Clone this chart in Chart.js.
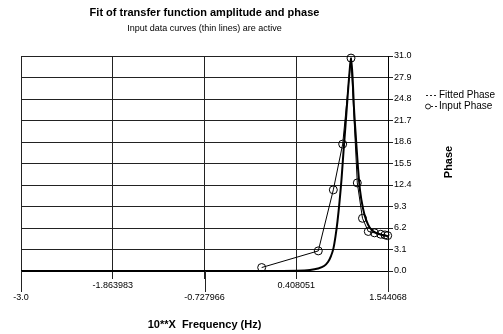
<!DOCTYPE html>
<html><head><meta charset="utf-8">
<script src="https://cdn.jsdelivr.net/npm/chart.js@4/dist/chart.umd.min.js"></script>
<style>html,body{margin:0;padding:0;background:#fff;}canvas{display:block;}</style>
</head><body>
<canvas id="c" width="503" height="334"></canvas>
<script>
const xTicks = [-3.0, -1.863983, -0.727966, 0.408051, 1.544068];
const xTickLabels = ['-3.0', '-1.863983', '-0.727966', '0.408051', '1.544068'];
const yTicks = [0.0, 3.1, 6.2, 9.3, 12.4, 15.5, 18.6, 21.7, 24.8, 27.9, 31.0];
const yTickLabels = ['0.0', '3.1', '6.2', '9.3', '12.4', '15.5', '18.6', '21.7', '24.8', '27.9', '31.0'];

const inputX = [-0.020, 0.681, 0.867, 0.983, 1.086, 1.164, 1.228, 1.300, 1.377, 1.454, 1.507, 1.540];
const inputY = [0.5, 2.9, 11.7, 18.3, 30.7, 12.7, 7.6, 5.7, 5.5, 5.3, 5.2, 5.1];

const fitX = [-3.0, -1.4, -0.165, 0.417, 0.578, 0.677, 0.752, 0.801, 0.838, 0.869, 0.894, 0.919, 0.944, 0.969, 0.993, 1.018, 1.043, 1.068, 1.086, 1.105, 1.123, 1.148, 1.173, 1.198, 1.235, 1.272, 1.321, 1.396, 1.470, 1.544];
const fitY = [0.0, 0.0, 0.0, 0.04, 0.14, 0.36, 0.72, 1.3, 2.15, 3.3, 5.0, 7.2, 10.0, 13.3, 17.2, 21.0, 25.0, 28.7, 30.7, 28.0, 23.5, 19.0, 14.8, 11.6, 9.0, 7.4, 6.2, 5.5, 5.2, 5.0];

const titleText = 'Fit of transfer function amplitude and phase';
const subtitleText = 'Input data curves (thin lines) are active';
const xTitleText = '10**X  Frequency (Hz)';
const yTitleText = 'Phase';
const legendLabels = ['Fitted Phase', 'Input Phase'];

const FONT = "'Liberation Sans', Arial, Helvetica, sans-serif";

const decor = {
  id: 'decor',
  afterDraw(chart) {
    const ctx = chart.ctx;
    const a = chart.chartArea;
    const xs = chart.scales.x;
    ctx.save();
    // long ticks for lower label row
    ctx.strokeStyle = '#222';
    ctx.lineWidth = 1;
    xTicks.forEach((v, i) => {
      if (i % 2 === 0) {
        const px = Math.round(xs.getPixelForValue(v)) + 0.5;
        ctx.beginPath();
        ctx.moveTo(px, a.bottom);
        ctx.lineTo(px, a.bottom + 21);
        ctx.stroke();
      }
    });
    const cx = (a.left + a.right) / 2;
    ctx.fillStyle = '#000';
    ctx.textAlign = 'center';
    ctx.textBaseline = 'middle';
    ctx.font = 'bold 11px ' + FONT;
    ctx.fillText(titleText, cx, 13);
    ctx.font = '9px ' + FONT;
    ctx.fillText(subtitleText, cx, 29);
    ctx.font = 'bold 11px ' + FONT;
    ctx.fillText(xTitleText, cx, 325);
    ctx.save();
    ctx.translate(449, 162);
    ctx.rotate(-Math.PI / 2);
    ctx.fillText(yTitleText, 0, 0);
    ctx.restore();
    // legend
    ctx.textAlign = 'left';
    ctx.font = '10px ' + FONT;
    ctx.lineWidth = 1;
    ctx.setLineDash([2, 2]);
    ctx.beginPath();
    ctx.moveTo(426, 95.5); ctx.lineTo(437, 95.5);
    ctx.moveTo(431, 106.5); ctx.lineTo(437, 106.5);
    ctx.stroke();
    ctx.setLineDash([]);
    ctx.beginPath();
    ctx.arc(428, 106.5, 2.5, 0, Math.PI * 2);
    ctx.stroke();
    ctx.fillText(legendLabels[0], 439, 95.5);
    ctx.fillText(legendLabels[1], 439, 106.5);
    ctx.restore();
  }
};

new Chart(document.getElementById('c'), {
  type: 'line',
  data: {
    datasets: [
      {
        label: legendLabels[0],
        data: fitX.map((x, i) => ({x: x, y: fitY[i]})),
        borderColor: '#000',
        borderWidth: 2,
        pointRadius: 0,
        cubicInterpolationMode: 'monotone',
        fill: false
      },
      {
        label: legendLabels[1],
        data: inputX.map((x, i) => ({x: x, y: inputY[i]})),
        borderColor: '#000',
        borderWidth: 1,
        pointRadius: 4,
        pointBorderWidth: 1,
        pointBorderColor: '#000',
        pointBackgroundColor: 'rgba(0,0,0,0)',
        tension: 0,
        fill: false,
        clip: 8
      }
    ]
  },
  options: {
    responsive: false,
    animation: false,
    devicePixelRatio: 1,
    layout: {padding: {left: 21, top: 56, right: 0, bottom: 0}},
    plugins: {legend: {display: false}, tooltip: {enabled: false}, title: {display: false}},
    scales: {
      x: {
        type: 'linear',
        min: -3.0,
        max: 1.544068,
        afterBuildTicks(s) { s.ticks = xTicks.map(v => ({value: v})); },
        afterFit(s) { s.height = 63; },
        grid: {color: '#222', lineWidth: 1, tickLength: 8},
        border: {color: '#000', width: 1},
        ticks: {
          autoSkip: false, maxRotation: 0, minRotation: 0, padding: 1, color: '#000',
          font: {size: 9, family: FONT, lineHeight: 1.333},
          callback(v, i) { return i % 2 === 0 ? ['', xTickLabels[i]] : [xTickLabels[i]]; }
        }
      },
      y: {
        type: 'linear',
        position: 'right',
        min: 0,
        max: 31.0,
        afterBuildTicks(s) { s.ticks = yTicks.map(v => ({value: v})); },
        afterFit(s) { s.width = 115; },
        grid: {color: '#222', lineWidth: 1, tickLength: 5},
        border: {color: '#000', width: 1},
        ticks: {
          padding: 1, color: '#000',
          font: {size: 9, family: FONT},
          callback(v, i) { return yTickLabels[i]; }
        }
      }
    }
  },
  plugins: [decor]
});
</script>
</body></html>
